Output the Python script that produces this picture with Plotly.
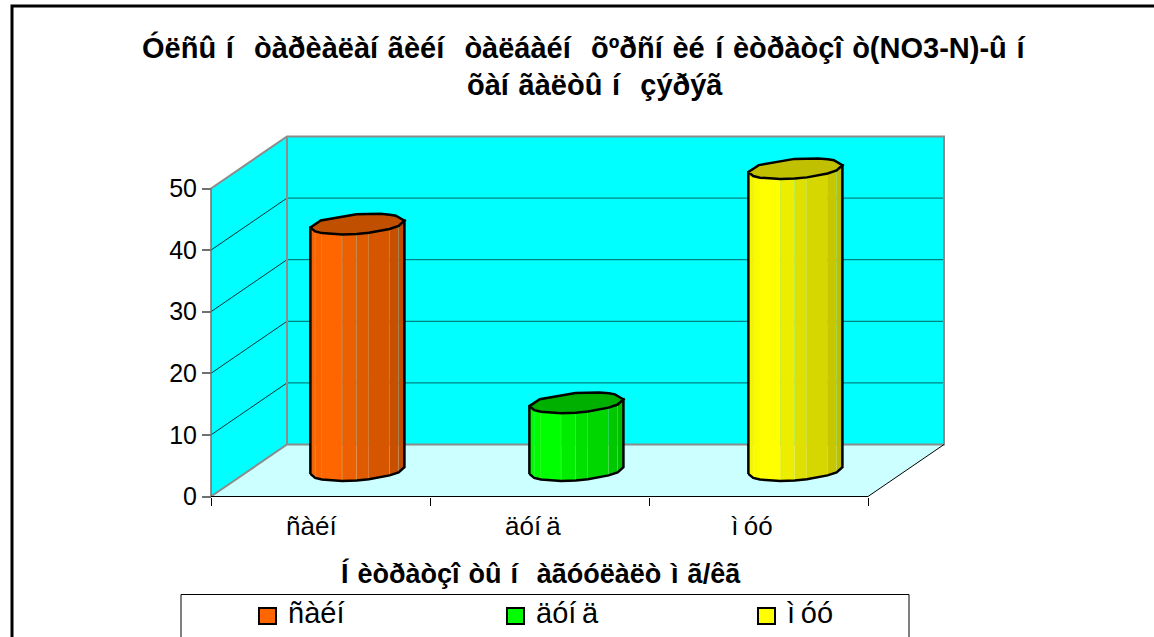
import math
import plotly.graph_objects as go

# Chart content
title_lines = ["Óëñûí \u200aòàðèàëàíãèéí \u200aòàëáàéí \u200aõºðñíèé \u200aíèòðàòçîò(NO3-N)-ûí", "õàíãàëòûí \u200açýðýã"]
axis_title = "Íèòðàòçîòûí \u200aàãóóëàëò \u200aìã/êã"
categories = ["ñàéí", "äóíä", "ìóó"]
values = [40, 11, 49]
bright_colors = ["#FF6600", "#00FF00", "#FFFF00"]
cap_colors = ["#C05000", "#00B000", "#C0C000"]
value_ticks = [0, 10, 20, 30, 40, 50]

# Oblique projection of the depth axis, in axis units
PX_PER_CAT = 219.0
PX_PER_VALUE = 6.16
DEPTH_X = 76 / PX_PER_CAT
DEPTH_Y = 52 / PX_PER_VALUE
RADIUS_X = 44.5 / PX_PER_CAT
RADIUS_DEPTH = 0.2
N_CAT = len(categories)
TOP = value_ticks[-1]

# Facet angles of the polygonal cylinder (degrees around the base)
FRONT_ANGLES = [199, 225, 240, 270, 288, 303, 332, 350, 379]
BACK_ANGLES = [54, 65, 80, 110, 160]
FACET_SHADE = [0.96, 0.98, 1.0, 0.93, 0.88, 0.84, 0.78, 0.75]


def rim(center, level, deg):
    t = math.radians(deg)
    x = center + RADIUS_X * math.cos(t) + RADIUS_DEPTH * DEPTH_X * math.sin(t)
    y = level + RADIUS_DEPTH * DEPTH_Y * math.sin(t)
    return x, y


def shade(color, k):
    r, g, b = (int(color[i:i + 2], 16) for i in (1, 3, 5))
    return f"rgb({round(r * k)},{round(g * k)},{round(b * k)})"


def spaced(text, gap="\u2009"):
    # Wide-advance letters get a small gap after them
    for ch in "íìîÍû":
        text = text.replace(ch, ch + gap)
    return text


fig = go.Figure()


def polygon(xs, ys, fill, line_color="rgba(0,0,0,0)", width=0):
    fig.add_trace(go.Scatter(x=xs, y=ys, mode="lines", fill="toself", fillcolor=fill,
                             line=dict(color=line_color, width=width),
                             hoverinfo="skip", showlegend=False, cliponaxis=False))


def path(xs, ys, color, width):
    fig.add_trace(go.Scatter(x=xs, y=ys, mode="lines", line=dict(color=color, width=width),
                             hoverinfo="skip", showlegend=False, cliponaxis=False))


# Walls and floor
W = N_CAT + DEPTH_X
polygon([DEPTH_X, W, W, DEPTH_X], [DEPTH_Y, DEPTH_Y, TOP + DEPTH_Y, TOP + DEPTH_Y], "#00FFFF")
polygon([0, DEPTH_X, DEPTH_X, 0], [0, DEPTH_Y, TOP + DEPTH_Y, TOP], "#00FFFF")
polygon([0, N_CAT, W, DEPTH_X], [0, 0, DEPTH_Y, DEPTH_Y], "#CCFFFF")

# Gridlines across both walls
for v in value_ticks[1:-1]:
    path([0, DEPTH_X], [v, v + DEPTH_Y], "#000000", 0.8)
    path([DEPTH_X, W], [v + DEPTH_Y, v + DEPTH_Y], "#006464", 1)

# Wall edges
path([0, DEPTH_X, W, W, DEPTH_X, 0], [TOP, TOP + DEPTH_Y, TOP + DEPTH_Y, DEPTH_Y, DEPTH_Y, 0], "#8C8C8C", 2)
path([DEPTH_X, DEPTH_X], [DEPTH_Y, TOP + DEPTH_Y], "#8C8C8C", 2)
path([0, 0], [0, TOP], "#707070", 1.5)
path([0, N_CAT, W], [0, 0, DEPTH_Y], "#000000", 1)

# Cylinders: shaded facets, silhouette, then the darker cap
for i, v in enumerate(values):
    cx = i + 0.495 + 0.5 * DEPTH_X
    base = 0.5 * DEPTH_Y
    lid = v + base
    for j, k in enumerate(FACET_SHADE):
        a, b = FRONT_ANGLES[j], FRONT_ANGLES[j + 1]
        pts = [rim(cx, lid, a), rim(cx, lid, b), rim(cx, base, b), rim(cx, base, a)]
        polygon([p[0] for p in pts], [p[1] for p in pts], shade(bright_colors[i], k),
                "rgba(235,240,210,0.4)", 0.7)
    outline = [rim(cx, base, a) for a in FRONT_ANGLES] + [rim(cx, lid, FRONT_ANGLES[-1]), rim(cx, lid, FRONT_ANGLES[0])]
    outline.append(outline[0])
    path([p[0] for p in outline], [p[1] for p in outline], "#000000", 2.5)
    cap = [rim(cx, lid, a) for a in FRONT_ANGLES + [a + 360 for a in BACK_ANGLES] + [FRONT_ANGLES[0] + 360]]
    polygon([p[0] for p in cap], [p[1] for p in cap], cap_colors[i], "#000000", 2.5)

# Plot-area box in page pixels; the axes float inside it so edge lines stay unclipped
L, T, PW, PH = 200, 130, 755, 380
ORIGIN_X, ORIGIN_Y = 211, 496.5


def px(x):
    return (x - L) / PW


def py(y):
    return (T + PH - y) / PH


annotations = []


def label(text, x, y, size, bold=False, anchor="center", gap="\u2009"):
    body = spaced(text, gap)
    shown = f"<b>{body}</b>" if bold else body
    annotations.append(dict(text=shown, x=px(x), y=py(y), xref="paper", yref="paper", xanchor=anchor,
                            yanchor="middle", showarrow=False, font=dict(size=size, color="#000000")))


label(title_lines[0], 588, 47, 29, True, gap="\u2004")
label(title_lines[1], 595, 85, 29, True, gap="\u2004")
label(axis_title, 541, 573, 27, True, gap="\u2004")

shapes = [
    dict(type="rect", xref="paper", yref="paper", x0=px(12), x1=px(1170), y0=py(6), y1=py(660),
         line=dict(color="#000000", width=3), layer="below"),
    dict(type="rect", xref="paper", yref="paper", x0=px(181), x1=px(909), y0=py(594.5), y1=py(660),
         line=dict(color="#000000", width=1), fillcolor="#FFFFFF", layer="below"),
]
legend_x = [259, 507, 758]
for name, color, x in zip(categories, bright_colors, legend_x):
    shapes.append(dict(type="rect", xref="paper", yref="paper", x0=px(x), x1=px(x + 17), y0=py(608), y1=py(624),
                       fillcolor=color, line=dict(color="#000000", width=2)))
    label(name, x + 27, 613, 29, anchor="left")

fig.update_layout(
    width=1154, height=637, margin=dict(l=L, r=1154 - L - PW, t=T, b=637 - T - PH),
    paper_bgcolor="#FFFFFF", plot_bgcolor="rgba(0,0,0,0)", showlegend=False,
    font=dict(family="Liberation Sans, Arial, sans-serif", color="#000000"),
    shapes=shapes, annotations=annotations,
    xaxis=dict(range=[(L - ORIGIN_X) / PX_PER_CAT, (L + PW - ORIGIN_X) / PX_PER_CAT],
               anchor="free", position=py(ORIGIN_Y), tickmode="array",
               tickvals=[i + 0.47 for i in range(N_CAT)], ticktext=[spaced(c) for c in categories],
               ticks="", showgrid=False, zeroline=False, showline=False, tickfont=dict(size=26),
               ticklabelstandoff=11,
               minor=dict(tickmode="array", tickvals=list(range(N_CAT + 1)), ticks="outside", ticklen=8,
                          tickcolor="#000000", tickwidth=1, showgrid=False)),
    yaxis=dict(range=[(ORIGIN_Y - T - PH) / PX_PER_VALUE, (ORIGIN_Y - T) / PX_PER_VALUE],
               anchor="free", position=px(ORIGIN_X), tickmode="array", tickvals=value_ticks,
               ticks="outside", ticklen=9, tickcolor="#707070", tickwidth=2, showgrid=False,
               zeroline=False, showline=False, tickfont=dict(size=25)),
)

fig.write_html("out.html", config=dict(displayModeBar=False))
